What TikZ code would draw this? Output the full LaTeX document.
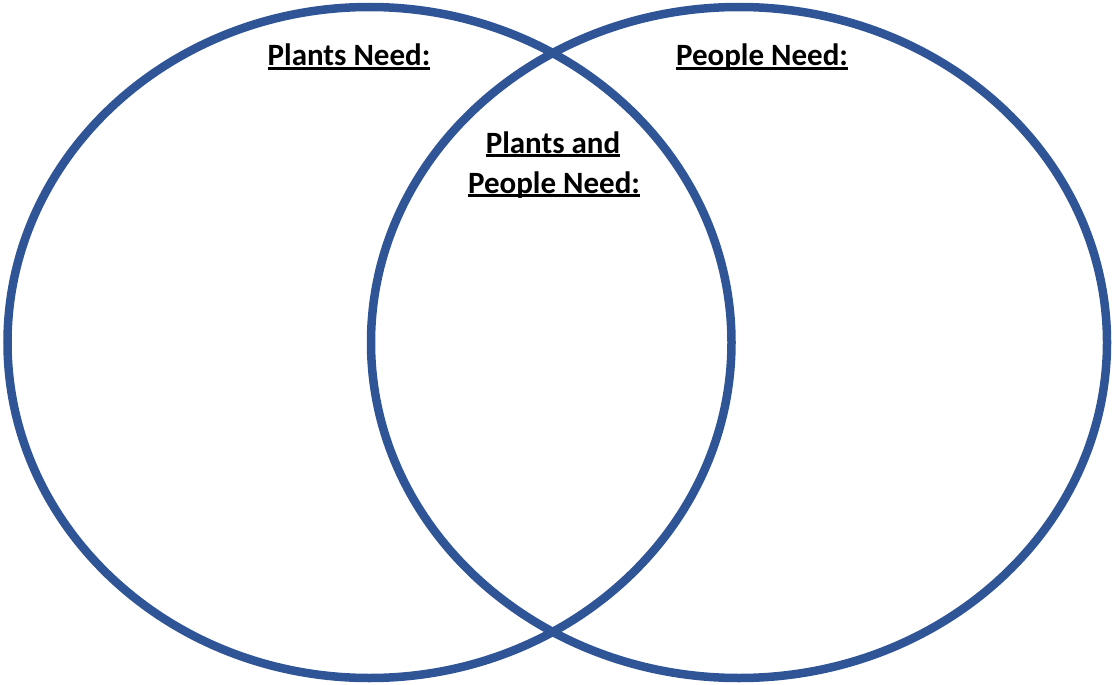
\documentclass[tikz,border=0pt]{standalone}
\usepackage{fontspec}
\setmainfont{Carlito}
\definecolor{vennblue}{RGB}{47,85,151}
\newcommand{\myul}[1]{\setbox0\hbox{#1}\rlap{\rule[-0.12em]{\wd0}{0.075em}}\box0}
\begin{document}
\begin{tikzpicture}[x=1pt,y=-1pt,
  ring/.style={draw=vennblue,line width=8.5pt},
  head/.style={font=\fontsize{31}{40}\selectfont\bfseries,inner sep=0pt,anchor=base,align=center}]
\useasboundingbox (0,0) rectangle (1114,685);
\draw[ring] (369.5,342.5) ellipse [x radius=362, y radius=335.5];
\draw[ring] (739,342.5) ellipse [x radius=368, y radius=335.5];
\node[head] (plants) at (349,66) {\myul{Plants Need:}};
\node[head] (people) at (762,66) {\myul{People Need:}};
\node[head] (both1) at (553,153) {\myul{Plants and}};
\node[head] (both2) at (554,193) {\myul{People Need:}};
\end{tikzpicture}
\end{document}
